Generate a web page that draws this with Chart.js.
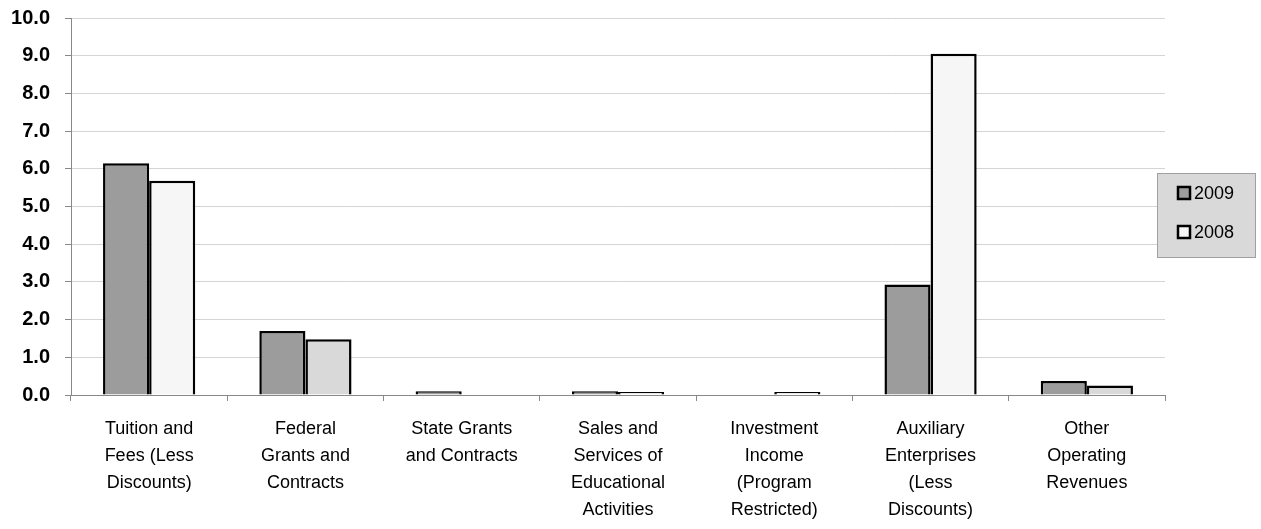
<!DOCTYPE html>
<html>
<head>
<meta charset="utf-8">
<script src="https://cdn.jsdelivr.net/npm/chart.js@4/dist/chart.umd.min.js"></script>
<style>
  html, body { margin: 0; padding: 0; background: #ffffff; }
  #wrap { width: 1261px; height: 529px; position: relative; }
</style>
</head>
<body>
<div id="wrap"><canvas id="c" width="1261" height="529"></canvas></div>
<script>
const categories = [
  ["Tuition and", "Fees (Less", "Discounts)"],
  ["Federal", "Grants and", "Contracts"],
  ["State Grants", "and Contracts"],
  ["Sales and", "Services of", "Educational", "Activities"],
  ["Investment", "Income", "(Program", "Restricted)"],
  ["Auxiliary", "Enterprises", "(Less", "Discounts)"],
  ["Other", "Operating", "Revenues"]
];
const seriesNames = ["2009", "2008"];
const values2009 = [6.15, 1.7, 0.1, 0.1, 0.0, 2.93, 0.37];
const values2008 = [5.68, 1.48, 0.0, 0.08, 0.08, 9.05, 0.25];
const yTicks = [0, 1, 2, 3, 4, 5, 6, 7, 8, 9, 10];

const color2009 = '#9c9c9c';
const colors2008 = ['#f6f6f6', '#d9d9d9', '#f6f6f6', '#f6f6f6', '#f6f6f6', '#f6f6f6', '#d9d9d9'];
const FONT = '"Liberation Sans", Arial, sans-serif';

const legendPlugin = {
  id: 'boxLegend',
  afterDraw(chart) {
    const ctx = chart.ctx;
    ctx.save();
    const x = 1157, y = 173, w = 98, h = 84;
    ctx.fillStyle = '#d9d9d9';
    ctx.fillRect(x, y, w, h);
    ctx.strokeStyle = '#a0a0a0';
    ctx.lineWidth = 1;
    ctx.strokeRect(x + 0.5, y + 0.5, w, h);
    const items = [
      { label: seriesNames[0], fill: color2009, cy: 193 },
      { label: seriesNames[1], fill: '#f6f6f6', cy: 232 }
    ];
    items.forEach(it => {
      ctx.fillStyle = it.fill;
      ctx.fillRect(x + 21, it.cy - 6, 12, 12);
      ctx.strokeStyle = '#000';
      ctx.lineWidth = 2.5;
      ctx.strokeRect(x + 21, it.cy - 6, 12, 12);
      ctx.fillStyle = '#000';
      ctx.font = '18px ' + FONT;
      ctx.textBaseline = 'middle';
      ctx.textAlign = 'left';
      ctx.fillText(it.label, x + 37, it.cy + 1);
    });
    ctx.restore();
  }
};

new Chart(document.getElementById('c'), {
  type: 'bar',
  data: {
    labels: categories,
    datasets: [
      {
        label: seriesNames[0],
        data: values2009,
        backgroundColor: color2009,
        borderColor: '#000',
        borderWidth: 2.5,
        categoryPercentage: 0.59,
        barPercentage: 1.0
      },
      {
        label: seriesNames[1],
        data: values2008,
        backgroundColor: colors2008,
        borderColor: '#000',
        borderWidth: 2.5,
        categoryPercentage: 0.59,
        barPercentage: 1.0
      }
    ]
  },
  options: {
    responsive: false,
    animation: false,
    layout: { padding: { top: 18, right: 96, left: 0, bottom: 0 } },
    plugins: {
      legend: { display: false },
      tooltip: { enabled: false }
    },
    scales: {
      x: {
        afterFit(axis) { axis.height = 134; axis.paddingLeft = 0; axis.paddingRight = 0; },
        grid: {
          offset: true,
          drawOnChartArea: false,
          drawTicks: true,
          tickLength: 6,
          color: '#888',
          tickColor: '#888'
        },
        border: { color: '#888', width: 1 },
        ticks: {
          color: '#000',
          font: { family: FONT, size: 18, lineHeight: 1.5 },
          padding: 15,
          maxRotation: 0,
          autoSkip: false
        }
      },
      y: {
        min: 0,
        max: 10,
        afterFit(axis) { axis.width = 71; axis.paddingTop = 0; axis.paddingBottom = 0; },
        afterBuildTicks(axis) { axis.ticks = yTicks.map(v => ({ value: v })); },
        grid: {
          color: '#d4d4d4',
          tickColor: '#888',
          tickLength: 6,
          lineWidth: 1
        },
        border: { color: '#888', width: 1 },
        ticks: {
          color: '#000',
          font: { family: FONT, size: 20, weight: 'bold' },
          padding: 15,
          callback: v => Number(v).toFixed(1)
        }
      }
    }
  },
  plugins: [legendPlugin]
});
</script>
</body>
</html>
